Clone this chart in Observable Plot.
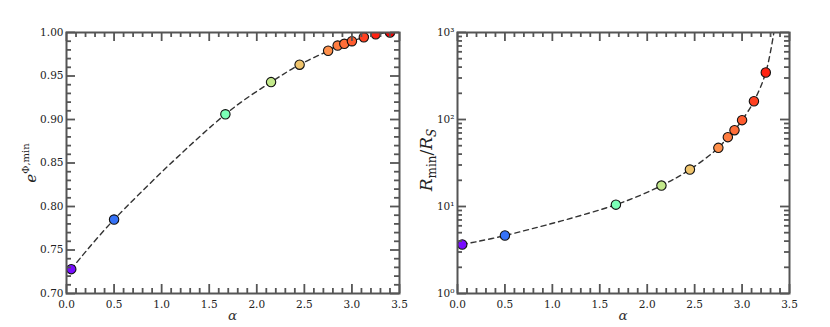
<!DOCTYPE html>
<html><head><meta charset="utf-8">
<script src="https://cdn.jsdelivr.net/npm/d3@7"></script>
<script src="https://cdn.jsdelivr.net/npm/@observablehq/plot@0.6"></script>
<style>
body{margin:0;background:#fff;}
#wrap{display:flex;width:830px;height:327px;overflow:hidden;}
#wrap svg{display:block;}
</style></head><body><div id="wrap"></div>
<script>
// ---- data ----
const alpha      = [0.05, 0.5, 1.67, 2.15, 2.45, 2.75, 2.85, 2.92, 3.0, 3.125, 3.25, 3.4];
const ePhiMin    = [0.728, 0.785, 0.906, 0.943, 0.963, 0.979, 0.985, 0.987, 0.990, 0.9945, 0.998, 1.000];
const rMinOverRs = [3.66, 4.64, 10.5, 17.4, 26.6, 47.2, 62.7, 75.4, 98.3, 162, 347, null];
// dashed curve on the right panel continues past the last marker up to the top edge
const rCurveTailAlpha = [3.335];
const rCurveTailR     = [1000];
// ticks
const xMajor = [0, 0.5, 1.0, 1.5, 2.0, 2.5, 3.0, 3.5];
const xMinor = [0.1,0.2,0.3,0.4,0.6,0.7,0.8,0.9,1.1,1.2,1.3,1.4,1.6,1.7,1.8,1.9,2.1,2.2,2.3,2.4,2.6,2.7,2.8,2.9,3.1,3.2,3.3,3.4];
const yLeftMajor = [0.70, 0.75, 0.80, 0.85, 0.90, 0.95, 1.00];
const yLeftMinor = [0.71,0.72,0.73,0.74,0.76,0.77,0.78,0.79,0.81,0.82,0.83,0.84,0.86,0.87,0.88,0.89,0.91,0.92,0.93,0.94,0.96,0.97,0.98,0.99];
const yRightMajor = [1, 10, 100, 1000];
const yRightMinor = [2,3,4,5,6,7,8,9,20,30,40,50,60,70,80,90,200,300,400,500,600,700,800,900];
const supDigits = ["\u2070","\u00B9","\u00B2","\u00B3"];

// rainbow colormap (matplotlib style) for the colour scale
const rainbow = t => {
  const r = Math.min(1, Math.abs(2*t - 0.5));
  const g = Math.sin(Math.PI * t);
  const b = Math.cos(Math.PI * t / 2);
  return d3.rgb(255*r, 255*g, 255*Math.max(0,b)).toString();
};

const pts = alpha.map((a, i) => ({alpha: a, e: ePhiMin[i], r: rMinOverRs[i]}));
const leftCurve = pts.map(d => ({alpha: d.alpha, y: d.e}));
const rightCurve = pts.filter(d => d.r != null).map(d => ({alpha: d.alpha, y: d.r}))
  .concat(rCurveTailAlpha.map((a, i) => ({alpha: a, y: rCurveTailR[i]})));

const H = 327, MT = 32, MB = 34;
const PH = H - MT - MB;
const ink = "#333";
const tickInk = "#555";
const XD = [0, 3.5];

// inward ticks on all four sides (rules shortened with insets)
function tickMarks(PW, yMajor, yMinor) {
  const maj = 9, min = 5;
  const o = {stroke: tickInk, strokeWidth: 1.8};
  const tx = (arr, len) => [
    Plot.ruleX(arr, {x: d => d, insetTop: PH - len, ...o}),
    Plot.ruleX(arr, {x: d => d, insetBottom: PH - len, ...o})
  ];
  const ty = (arr, len) => [
    Plot.ruleY(arr, {y: d => d, insetRight: PW - len, ...o}),
    Plot.ruleY(arr, {y: d => d, insetLeft: PW - len, ...o})
  ];
  return [...tx(xMajor, maj), ...tx(xMinor, min), ...ty(yMajor, maj), ...ty(yMinor, min)];
}

const common = {
  height: H, marginTop: MT, marginBottom: MB,
  style: {fontFamily: "'DejaVu Serif', serif", fontSize: "10.5px", color: "#222", background: "#fff"},
  x: {domain: XD},
  color: {type: "linear", domain: [0, 3.4], interpolate: rainbow}
};

// Left panel
const W1 = 415, ML1 = 66, MR1 = 16;
const left = Plot.plot({
  ...common, width: W1, marginLeft: ML1, marginRight: MR1,
  y: {domain: [0.70, 1.00]},
  marks: [
    Plot.line(leftCurve, {x: "alpha", y: "y", curve: "catmull-rom", stroke: ink, strokeWidth: 1.4, strokeDasharray: "5,4", clip: true}),
    Plot.dot(pts, {x: "alpha", y: "e", r: 4.7, fill: "alpha", stroke: "#111", strokeWidth: 1.1, clip: true}),
    ...tickMarks(W1 - ML1 - MR1, yLeftMajor, yLeftMinor),
    Plot.axisX({ticks: xMajor, tickSize: 0, tickPadding: 7, tickFormat: d3.format(".1f"), label: null}),
    Plot.axisY({ticks: yLeftMajor, tickSize: 0, tickPadding: 3, tickFormat: d3.format(".2f"), label: null}),
    Plot.frame({stroke: tickInk, strokeWidth: 2})
  ]
});

// Right panel
const W2 = 415, ML2 = 42, MR2 = 41;
const right = Plot.plot({
  ...common, width: W2, marginLeft: ML2, marginRight: MR2,
  y: {type: "log", domain: [1, 1000]},
  marks: [
    Plot.line(rightCurve, {x: "alpha", y: "y", curve: "catmull-rom", stroke: ink, strokeWidth: 1.4, strokeDasharray: "5,4", clip: true}),
    Plot.dot(pts.filter(d => d.r != null), {x: "alpha", y: "r", r: 4.7, fill: "alpha", stroke: "#111", strokeWidth: 1.1, clip: true}),
    ...tickMarks(W2 - ML2 - MR2, yRightMajor, yRightMinor),
    Plot.axisX({ticks: xMajor, tickSize: 0, tickPadding: 7, tickFormat: d3.format(".1f"), label: null}),
    Plot.axisY({ticks: yRightMajor, tickSize: 0, tickPadding: 3, tickFormat: d => "10" + supDigits[Math.round(Math.log10(d))], label: null}),
    Plot.frame({stroke: tickInk, strokeWidth: 2})
  ]
});

const wrap = document.getElementById("wrap");
wrap.appendChild(left);
wrap.appendChild(right);

// axis labels with math-style typesetting
function addLabels(svg, cx, ylabelX, ylabelY, build) {
  const s = d3.select(svg);
  s.append("text").attr("x", cx).attr("y", 320).attr("text-anchor", "middle")
    .attr("font-family", "'DejaVu Serif', serif").attr("font-style", "italic").attr("font-size", 13.5)
    .attr("fill", "#333").text("\u03B1");
  const t = s.append("text").attr("text-anchor", "middle")
    .attr("transform", `translate(${ylabelX},${ylabelY}) rotate(-90)`)
    .attr("font-family", "'DejaVu Serif', serif").attr("fill", "#222");
  build(t);
}
addLabels(left, 232.5, 36, 163, t => {
  t.append("tspan").attr("font-style", "italic").attr("font-size", 15).text("e");
  t.append("tspan").attr("font-size", 10).attr("dy", -7).text("\u03A6,min");
});
addLabels(right, 208, 17, 160, t => {
  t.append("tspan").attr("font-style", "italic").attr("font-size", 17).text("R");
  t.append("tspan").attr("font-size", 12).attr("dy", 4).text("min");
  t.append("tspan").attr("font-size", 17).attr("dy", -4).text("/");
  t.append("tspan").attr("font-style", "italic").attr("font-size", 17).text("R");
  t.append("tspan").attr("font-style", "italic").attr("font-size", 12).attr("dy", 4).text("S");
});
</script>
</body></html>
